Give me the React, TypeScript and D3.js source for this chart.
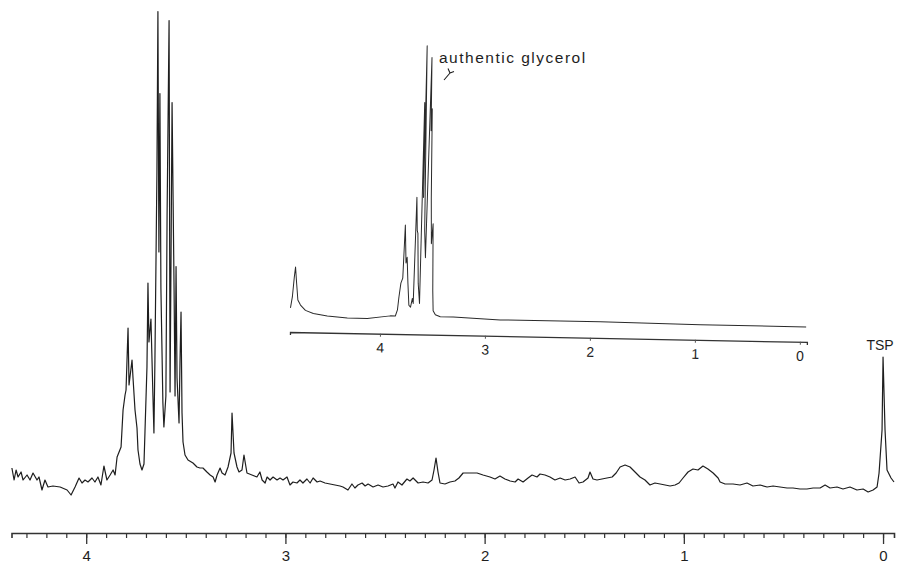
import React, { useRef, useEffect } from "react";
import * as d3 from "d3";

// main spectrum trace: [chemical shift (ppm), intensity (arb.)]
const sampleTrace: [number, number][] = [
  [4.373, 6.4], [4.362, 4], [4.352, 6], [4.342, 4.6], [4.327, 5.6], [4.317, 4], [4.297, 5], [4.282, 4],
  [4.267, 5.4], [4.247, 4], [4.237, 4.6], [4.222, 2], [4.207, 4], [4.192, 2.6], [4.167, 2.8], [4.131, 2.6],
  [4.096, 2], [4.076, 1], [4.056, 2.6], [4.036, 4.4], [4.021, 3.4], [4.006, 4], [3.991, 3.6], [3.971, 4.4],
  [3.956, 3.6], [3.941, 4.6], [3.926, 3], [3.911, 6.8], [3.896, 4], [3.88, 5], [3.865, 6], [3.855, 5],
  [3.845, 8.6], [3.825, 10.6], [3.815, 18], [3.805, 21], [3.8, 22], [3.79, 34.4], [3.785, 23], [3.77, 28],
  [3.765, 24.4], [3.755, 18], [3.745, 14.4], [3.74, 10], [3.73, 7.2], [3.72, 6], [3.71, 7.2], [3.705, 13.6],
  [3.695, 26.6], [3.69, 43.4], [3.685, 31.6], [3.675, 36.2], [3.665, 20.8], [3.66, 13.4], [3.655, 28],
  [3.645, 65.4], [3.64, 97.7], [3.635, 49.6], [3.63, 81.3], [3.625, 42.4], [3.615, 19.4], [3.61, 14.6],
  [3.6, 20.8], [3.594, 56.8], [3.584, 95.9], [3.579, 21.6], [3.574, 49.6], [3.569, 79.5], [3.559, 42.4],
  [3.554, 20.8], [3.549, 46.7], [3.544, 24.4], [3.534, 15.4], [3.529, 28], [3.524, 37.6], [3.519, 17.4],
  [3.514, 11.6], [3.504, 9], [3.489, 8], [3.464, 7.4], [3.444, 6.6], [3.429, 6.4], [3.414, 6.4], [3.394, 5.6],
  [3.378, 5], [3.363, 4.6], [3.353, 3.6], [3.343, 5], [3.328, 6.4], [3.318, 5.4], [3.303, 5], [3.288, 6.6],
  [3.273, 9.4], [3.268, 17.4], [3.258, 9.4], [3.243, 6.6], [3.233, 5.6], [3.218, 6], [3.208, 9], [3.193, 5.4],
  [3.168, 5], [3.143, 4.6], [3.128, 5.6], [3.117, 4], [3.102, 3.4], [3.092, 4.6], [3.077, 4], [3.062, 4.6],
  [3.042, 4], [3.027, 4.4], [3.012, 4], [2.992, 4.6], [2.977, 3], [2.962, 3.6], [2.942, 3.4], [2.927, 4],
  [2.912, 3.4], [2.892, 4.2], [2.876, 3.4], [2.861, 4.4], [2.841, 3.6], [2.826, 3.8], [2.801, 3.4],
  [2.776, 3.2], [2.751, 3], [2.726, 2.8], [2.711, 2.6], [2.686, 2], [2.666, 3.2], [2.651, 2.4], [2.636, 3],
  [2.615, 3.4], [2.6, 2.8], [2.585, 3.2], [2.56, 2.6], [2.535, 3], [2.51, 2.6], [2.485, 2.8], [2.46, 3.2],
  [2.45, 2.4], [2.435, 3.6], [2.415, 3], [2.39, 4.2], [2.375, 3.8], [2.359, 4.4], [2.334, 3.4], [2.309, 3.6],
  [2.284, 3.4], [2.264, 4], [2.254, 6], [2.244, 8.4], [2.234, 5.6], [2.224, 3.4], [2.199, 3.2], [2.174, 3.6],
  [2.149, 3.8], [2.129, 4.4], [2.108, 5.4], [2.073, 5.4], [2.038, 5.4], [2.008, 5], [1.973, 4.6], [1.948, 4.2],
  [1.923, 4.8], [1.898, 4.2], [1.872, 3.8], [1.847, 3.6], [1.832, 4.2], [1.807, 3.6], [1.782, 4.4], [1.762, 5],
  [1.737, 4.6], [1.722, 5.2], [1.697, 5], [1.672, 4.6], [1.647, 4], [1.621, 4.4], [1.596, 4], [1.571, 4.2],
  [1.546, 4.6], [1.526, 3.4], [1.506, 3.6], [1.481, 4.4], [1.471, 5.6], [1.456, 4.2], [1.436, 4], [1.411, 4.2],
  [1.386, 4.4], [1.36, 4.6], [1.34, 5.4], [1.32, 6.6], [1.295, 7], [1.27, 6.6], [1.245, 5.6], [1.22, 4.6],
  [1.195, 4], [1.17, 3], [1.145, 3.4], [1.119, 3.2], [1.094, 3], [1.069, 2.8], [1.044, 3], [1.024, 3.4],
  [1.004, 4.4], [0.979, 5.6], [0.954, 6.2], [0.929, 6], [0.904, 6.8], [0.879, 6.2], [0.853, 5.4], [0.828, 4.4],
  [0.818, 3.6], [0.793, 3.2], [0.753, 3.2], [0.718, 3], [0.683, 3.4], [0.653, 2.8], [0.617, 3], [0.582, 2.6],
  [0.552, 2.8], [0.517, 2.6], [0.482, 2.4], [0.452, 2.4], [0.417, 2.2], [0.382, 2.2], [0.351, 2.4],
  [0.316, 2.4], [0.291, 3], [0.266, 2.4], [0.231, 2.6], [0.201, 2.2], [0.166, 2.6], [0.131, 2], [0.1, 2.2],
  [0.075, 1.6], [0.05, 2], [0.03, 2.6], [0.02, 5.4], [0.005, 14], [0, 28.6], [-0.01, 14], [-0.02, 6],
  [-0.04, 4.4], [-0.055, 3.6],
];

// inset: authentic glycerol reference spectrum
const glycerolTrace: [number, number][] = [
  [4.857, 4.4], [4.841, 8.4], [4.826, 15.6], [4.816, 19.3], [4.803, 13.5], [4.788, 7.3], [4.762, 5.5],
  [4.714, 3.6], [4.638, 2.5], [4.505, 1.7], [4.314, 1.1], [4.124, 1.1], [3.905, 2.2], [3.857, 2.2],
  [3.838, 4.4], [3.826, 9.1], [3.81, 14.2], [3.793, 16], [3.778, 35.3], [3.765, 21.5], [3.755, 23.6],
  [3.743, 14.2], [3.73, 6.2], [3.714, 5.5], [3.698, 8.7], [3.689, 6.9], [3.673, 45.5], [3.664, 33.5],
  [3.657, 32.4], [3.645, 14.2], [3.629, 6.9], [3.616, 80], [3.61, 45.5], [3.603, 100.7], [3.593, 33.5],
  [3.581, 23.6], [3.569, 57.8], [3.555, 96.4], [3.55, 69.8], [3.543, 77.8], [3.536, 45.1], [3.527, 28.7],
  [3.514, 36], [3.505, 11.6], [3.498, 4.4], [3.476, 2.9], [3.429, 2.2], [3.305, 2.2], [2.857, 1.5],
  [1.905, 1.5], [0.952, 1.1], [-0.057, 1.1],
];

const mainTicks = [4, 3, 2, 1, 0];
const insetTicks = [4, 3, 2, 1, 0];
const tspShift = 0;
const tspLabel = "TSP";
const insetLabel = "authentic glycerol";

const W = 899;
const H = 564;
const FONT = "'Liberation Sans', Arial, Helvetica, sans-serif";
const INK = "#1e1e1e";

const App = () => {
  const ref = useRef<SVGSVGElement>(null);

  useEffect(() => {
    const svg = d3.select(ref.current);
    svg.selectAll("*").remove();

    svg.append("rect").attr("width", W).attr("height", H).attr("fill", "#fff");

    // ---- main spectrum
    const x = d3.scaleLinear().domain([4.375, -0.055]).range([11.5, 894]);
    const y = d3.scaleLinear().domain([0, 100]).range([500, 0]);
    const axisY = 533;

    const line = d3
      .line<[number, number]>()
      .x((d) => x(d[0]))
      .y((d) => y(d[1]));

    svg
      .append("path")
      .datum(sampleTrace)
      .attr("d", line)
      .attr("fill", "none")
      .attr("stroke", INK)
      .attr("stroke-width", 1.2)
      .attr("stroke-linejoin", "round");

    // minor ticks every 0.1 ppm
    const minor = d3.range(44).map((i) => i / 10);
    const gMinor = svg
      .append("g")
      .attr("transform", `translate(0,${axisY})`)
      .call(d3.axisBottom(x).tickValues(minor).tickSize(5).tickFormat(() => ""));
    gMinor.select(".domain").attr("stroke", "#333").attr("stroke-width", 1.6);
    gMinor.selectAll(".tick line").attr("stroke", "#333").attr("stroke-width", 1.2);

    const gMajor = svg
      .append("g")
      .attr("transform", `translate(0,${axisY})`)
      .call(d3.axisBottom(x).tickValues(mainTicks).tickSize(11).tickPadding(6).tickFormat(d3.format("d")));
    gMajor.select(".domain").remove();
    gMajor.selectAll(".tick line").attr("stroke", "#333").attr("stroke-width", 1.3);
    gMajor
      .selectAll(".tick text")
      .attr("font-family", FONT)
      .attr("font-size", 15)
      .attr("fill", INK);

    svg
      .append("text")
      .attr("x", x(tspShift) - 3)
      .attr("y", 350)
      .attr("text-anchor", "middle")
      .attr("font-family", FONT)
      .attr("font-size", 14)
      .attr("fill", INK)
      .text(tspLabel);

    // ---- inset (slightly skewed on the scanned page)
    const ix = d3.scaleLinear().domain([4.857, -0.067]).range([290, 807]);
    const iy = d3.scaleLinear().domain([0, 100]).range([320, 45]);
    const insetAxisY = 332;

    const inset = svg.append("g").attr("transform", `rotate(1.1, 290, ${insetAxisY})`);

    const iline = d3
      .line<[number, number]>()
      .x((d) => ix(d[0]))
      .y((d) => iy(d[1]));

    inset
      .append("path")
      .datum(glycerolTrace)
      .attr("d", iline)
      .attr("fill", "none")
      .attr("stroke", "#2a2a2a")
      .attr("stroke-width", 1)
      .attr("stroke-linejoin", "round");

    const gInset = inset
      .append("g")
      .attr("transform", `translate(0,${insetAxisY})`)
      .call(d3.axisBottom(ix).tickValues(insetTicks).tickSize(3).tickPadding(6).tickFormat(d3.format("d")));
    gInset.select(".domain").attr("stroke", "#333").attr("stroke-width", 1.3);
    gInset.selectAll(".tick line").attr("stroke", "#555");
    gInset
      .selectAll(".tick text")
      .attr("font-family", FONT)
      .attr("font-size", 14)
      .attr("fill", INK);

    svg
      .append("text")
      .attr("x", 439)
      .attr("y", 63)
      .attr("font-family", FONT)
      .attr("font-size", 15.5)
      .attr("letter-spacing", 1.5)
      .attr("fill", INK)
      .text(insetLabel);

    // small pointer under the label
    svg
      .append("path")
      .attr("d", "M444,80 L450,73 M450,73 L448,68.5 M450,73 L454,71.5")
      .attr("fill", "none")
      .attr("stroke", INK)
      .attr("stroke-width", 1.1);
  }, []);

  return (
    <svg
      ref={ref}
      width={W}
      height={H}
      style={{ position: "absolute", left: 0, top: 0, display: "block" }}
    />
  );
};

export default App;
